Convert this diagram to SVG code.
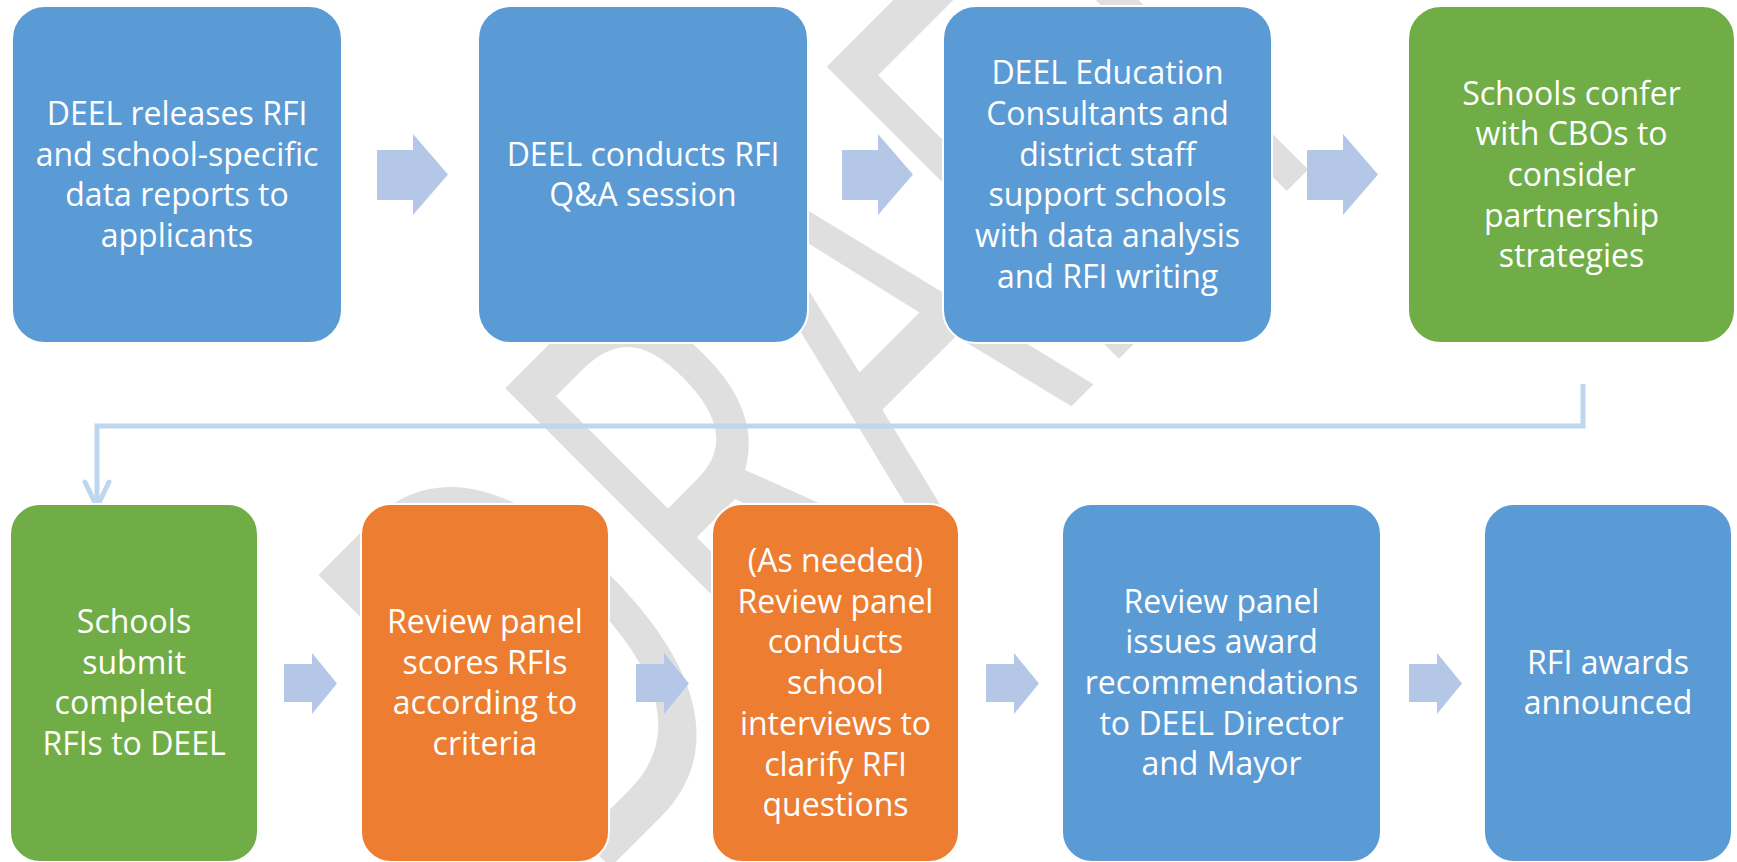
<svg xmlns="http://www.w3.org/2000/svg" width="1737" height="862" viewBox="0 0 1737 862">
  <style>
    .box { stroke: #ffffff; stroke-width: 2; }
    .blue { fill: #5B9BD5; }
    .green { fill: #70AD47; }
    .orange { fill: #ED7D31; }
    .label { font-family: "Open Sans", "Liberation Sans", sans-serif; font-size: 32px; fill: #ffffff; text-anchor: middle; }
    .step { fill: #B4C7E7; }
    .link { fill: none; stroke: #BDD7EE; stroke-width: 5; }
    .mark { font-family: "Open Sans", "Liberation Sans", sans-serif; font-weight: 400; font-size: 364px; fill: #DFDFDF; }
  </style>
  <defs>
    <marker id="chevron" markerUnits="userSpaceOnUse" viewBox="-30 -20 40 40" markerWidth="40" markerHeight="40" refX="0" refY="0" orient="auto" overflow="visible">
      <path d="M-25,-12 L0,0 L-25,12" fill="none" stroke="#BDD7EE" stroke-width="5" stroke-linecap="round" stroke-linejoin="round"/>
    </marker>
  </defs>
  <rect width="1737" height="862" fill="#ffffff"/>

  <!-- background watermark, stretched tall along its own axis -->
  <g id="watermark">
    <text class="mark" transform="translate(585.4,892.3) rotate(-45) scale(1,1.59)">DRAFT</text>
  </g>

  <!-- step arrows and the return connector -->
  <g id="connectors">
    <polygon class="step" points="377,150 413,150 413,134 448,174.5 413,215 413,200 377,200"/>
    <polygon class="step" points="842,150 878,150 878,134 913,174.5 878,215 878,200 842,200"/>
    <polygon class="step" points="1307,150 1343,150 1343,134 1378,174.5 1343,215 1343,200 1307,200"/>
    <polygon class="step" points="284,664 312,664 312,653 337,683.5 312,714 312,702 284,702"/>
    <polygon class="step" points="636,664 664,664 664,653 689,683.5 664,714 664,702 636,702"/>
    <polygon class="step" points="986,664 1014,664 1014,653 1039,683.5 1014,714 1014,702 986,702"/>
    <polygon class="step" points="1409,664 1437,664 1437,653 1462,683.5 1437,714 1437,702 1409,702"/>
    <path class="link" d="M1583,384 V426 H97 V507" marker-end="url(#chevron)"/>
  </g>

  <!-- row 1 -->
  <g id="release-rfi">
    <rect class="box blue" x="12" y="6" width="330" height="337" rx="33"/>
    <text class="label" y="125"><tspan x="177">DEEL releases RFI</tspan><tspan x="177" dy="40.7">and school-specific</tspan><tspan x="177" dy="40.7">data reports to</tspan><tspan x="177" dy="40.7">applicants</tspan></text>
  </g>
  <g id="qa-session">
    <rect class="box blue" x="478" y="6" width="330" height="337" rx="33"/>
    <text class="label" y="165.7"><tspan x="643">DEEL conducts RFI</tspan><tspan x="643" dy="40.7">Q&amp;A session</tspan></text>
  </g>
  <g id="consultant-support">
    <rect class="box blue" x="943" y="6" width="329" height="337" rx="33"/>
    <text class="label" y="84.3"><tspan x="1107.5">DEEL Education</tspan><tspan x="1107.5" dy="40.7">Consultants and</tspan><tspan x="1107.5" dy="40.7">district staff</tspan><tspan x="1107.5" dy="40.7">support schools</tspan><tspan x="1107.5" dy="40.7">with data analysis</tspan><tspan x="1107.5" dy="40.7">and RFI writing</tspan></text>
  </g>
  <g id="cbo-confer">
    <rect class="box green" x="1408" y="6" width="327" height="337" rx="33"/>
    <text class="label" y="104.6"><tspan x="1571.5">Schools confer</tspan><tspan x="1571.5" dy="40.7">with CBOs to</tspan><tspan x="1571.5" dy="40.7">consider</tspan><tspan x="1571.5" dy="40.7">partnership</tspan><tspan x="1571.5" dy="40.7">strategies</tspan></text>
  </g>

  <!-- row 2 -->
  <g id="submit-rfis">
    <rect class="box green" x="10" y="504" width="248" height="358" rx="30"/>
    <text class="label" y="633"><tspan x="134">Schools</tspan><tspan x="134" dy="40.7">submit</tspan><tspan x="134" dy="40.7">completed</tspan><tspan x="134" dy="40.7">RFIs to DEEL</tspan></text>
  </g>
  <g id="panel-scores">
    <rect class="box orange" x="361" y="504" width="248" height="358" rx="30"/>
    <text class="label" y="633"><tspan x="485">Review panel</tspan><tspan x="485" dy="40.7">scores RFIs</tspan><tspan x="485" dy="40.7">according to</tspan><tspan x="485" dy="40.7">criteria</tspan></text>
  </g>
  <g id="school-interviews">
    <rect class="box orange" x="712" y="504" width="247" height="358" rx="30"/>
    <text class="label" y="572"><tspan x="835.5">(As needed)</tspan><tspan x="835.5" dy="40.7">Review panel</tspan><tspan x="835.5" dy="40.7">conducts</tspan><tspan x="835.5" dy="40.7">school</tspan><tspan x="835.5" dy="40.7">interviews to</tspan><tspan x="835.5" dy="40.7">clarify RFI</tspan><tspan x="835.5" dy="40.7">questions</tspan></text>
  </g>
  <g id="award-recommendations">
    <rect class="box blue" x="1062" y="504" width="319" height="358" rx="30"/>
    <text class="label" y="612.6"><tspan x="1221.5">Review panel</tspan><tspan x="1221.5" dy="40.7">issues award</tspan><tspan x="1221.5" dy="40.7">recommendations</tspan><tspan x="1221.5" dy="40.7">to DEEL Director</tspan><tspan x="1221.5" dy="40.7">and Mayor</tspan></text>
  </g>
  <g id="awards-announced">
    <rect class="box blue" x="1484" y="504" width="248" height="358" rx="30"/>
    <text class="label" y="673.6"><tspan x="1608">RFI awards</tspan><tspan x="1608" dy="40.7">announced</tspan></text>
  </g>
</svg>
